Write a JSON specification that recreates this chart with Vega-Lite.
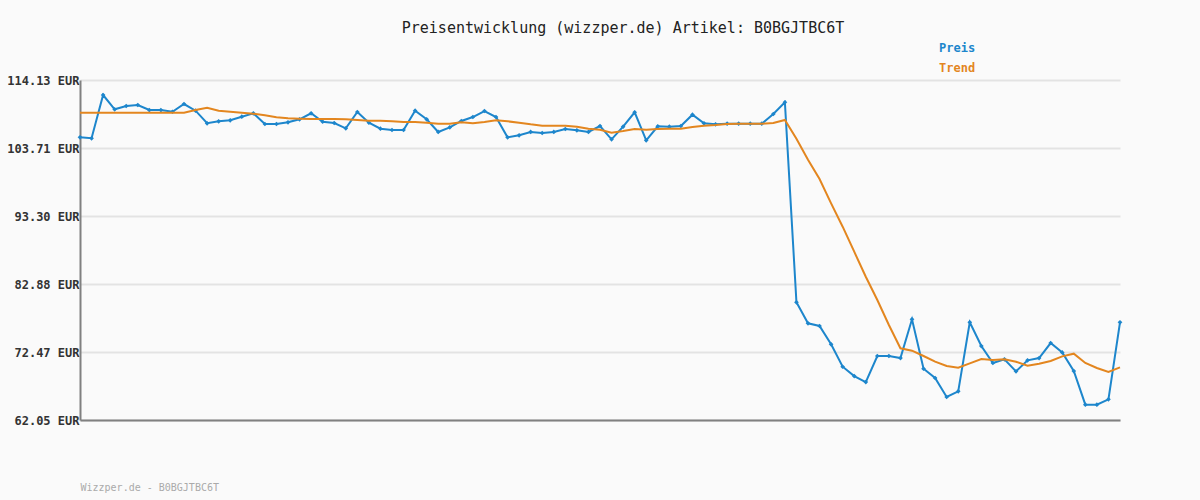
{
  "$schema": "https://vega.github.io/schema/vega-lite/v6.json",
  "width": 1040,
  "height": 340,
  "autosize": "none",
  "padding": {"left": 80, "top": 80, "right": 80, "bottom": 80},
  "background": "#fafafa",
  "title": {
    "text": "Preisentwicklung (wizzper.de) Artikel: B0BGJTBC6T",
    "font": "DejaVu Sans Mono",
    "fontSize": 15,
    "fontWeight": "normal",
    "color": "#222222",
    "anchor": "middle",
    "dx": 23,
    "offset": 6
  },
  "config": {
    "view": {"stroke": null},
    "legend": {"labelFont": "DejaVu Sans Mono"}
  },
  "data": {
    "values": [
      {"i":0,"s":"Preis","v":105.35},{"i":1,"s":"Preis","v":105.2},{"i":2,"s":"Preis","v":111.83},{"i":3,"s":"Preis","v":109.64},{"i":4,"s":"Preis","v":110.15},{"i":5,"s":"Preis","v":110.3},{"i":6,"s":"Preis","v":109.53},{"i":7,"s":"Preis","v":109.53},{"i":8,"s":"Preis","v":109.27},{"i":9,"s":"Preis","v":110.45},
      {"i":10,"s":"Preis","v":109.43},{"i":11,"s":"Preis","v":107.5},{"i":12,"s":"Preis","v":107.8},{"i":13,"s":"Preis","v":107.96},{"i":14,"s":"Preis","v":108.51},{"i":15,"s":"Preis","v":109.03},{"i":16,"s":"Preis","v":107.39},{"i":17,"s":"Preis","v":107.39},{"i":18,"s":"Preis","v":107.65},{"i":19,"s":"Preis","v":108.11},
      {"i":20,"s":"Preis","v":109.03},{"i":21,"s":"Preis","v":107.74},{"i":22,"s":"Preis","v":107.54},{"i":23,"s":"Preis","v":106.73},{"i":24,"s":"Preis","v":109.23},{"i":25,"s":"Preis","v":107.59},{"i":26,"s":"Preis","v":106.67},{"i":27,"s":"Preis","v":106.47},{"i":28,"s":"Preis","v":106.47},{"i":29,"s":"Preis","v":109.43},
      {"i":30,"s":"Preis","v":108.11},{"i":31,"s":"Preis","v":106.17},{"i":32,"s":"Preis","v":106.88},{"i":33,"s":"Preis","v":107.85},{"i":34,"s":"Preis","v":108.46},{"i":35,"s":"Preis","v":109.38},{"i":36,"s":"Preis","v":108.46},{"i":37,"s":"Preis","v":105.35},{"i":38,"s":"Preis","v":105.66},{"i":39,"s":"Preis","v":106.17},
      {"i":40,"s":"Preis","v":106.01},{"i":41,"s":"Preis","v":106.17},{"i":42,"s":"Preis","v":106.62},{"i":43,"s":"Preis","v":106.42},{"i":44,"s":"Preis","v":106.17},{"i":45,"s":"Preis","v":107.08},{"i":46,"s":"Preis","v":105.04},{"i":47,"s":"Preis","v":106.98},{"i":48,"s":"Preis","v":109.18},{"i":49,"s":"Preis","v":104.89},
      {"i":50,"s":"Preis","v":107.03},{"i":51,"s":"Preis","v":106.98},{"i":52,"s":"Preis","v":107.08},{"i":53,"s":"Preis","v":108.82},{"i":54,"s":"Preis","v":107.5},{"i":55,"s":"Preis","v":107.34},{"i":56,"s":"Preis","v":107.44},{"i":57,"s":"Preis","v":107.44},{"i":58,"s":"Preis","v":107.44},{"i":59,"s":"Preis","v":107.44},
      {"i":60,"s":"Preis","v":108.92},{"i":61,"s":"Preis","v":110.71},{"i":62,"s":"Preis","v":80.08},{"i":63,"s":"Preis","v":76.86},{"i":64,"s":"Preis","v":76.45},{"i":65,"s":"Preis","v":73.64},{"i":66,"s":"Preis","v":70.21},{"i":67,"s":"Preis","v":68.78},{"i":68,"s":"Preis","v":67.86},{"i":69,"s":"Preis","v":71.85},
      {"i":70,"s":"Preis","v":71.85},{"i":71,"s":"Preis","v":71.54},{"i":72,"s":"Preis","v":77.47},{"i":73,"s":"Preis","v":69.9},{"i":74,"s":"Preis","v":68.48},{"i":75,"s":"Preis","v":65.57},{"i":76,"s":"Preis","v":66.44},{"i":77,"s":"Preis","v":77.01},{"i":78,"s":"Preis","v":73.38},{"i":79,"s":"Preis","v":70.78},
      {"i":80,"s":"Preis","v":71.35},{"i":81,"s":"Preis","v":69.5},{"i":82,"s":"Preis","v":71.19},{"i":83,"s":"Preis","v":71.54},{"i":84,"s":"Preis","v":73.84},{"i":85,"s":"Preis","v":72.4},{"i":86,"s":"Preis","v":69.55},{"i":87,"s":"Preis","v":64.4},{"i":88,"s":"Preis","v":64.4},{"i":89,"s":"Preis","v":65.22},
      {"i":90,"s":"Preis","v":77.01},
      {"i":0,"s":"Trend","v":109.13},{"i":1,"s":"Trend","v":109.13},{"i":2,"s":"Trend","v":109.13},{"i":3,"s":"Trend","v":109.13},{"i":4,"s":"Trend","v":109.13},{"i":5,"s":"Trend","v":109.13},{"i":6,"s":"Trend","v":109.13},{"i":7,"s":"Trend","v":109.13},{"i":8,"s":"Trend","v":109.13},{"i":9,"s":"Trend","v":109.13},
      {"i":10,"s":"Trend","v":109.53},{"i":11,"s":"Trend","v":109.89},{"i":12,"s":"Trend","v":109.43},{"i":13,"s":"Trend","v":109.28},{"i":14,"s":"Trend","v":109.13},{"i":15,"s":"Trend","v":108.97},{"i":16,"s":"Trend","v":108.72},{"i":17,"s":"Trend","v":108.41},{"i":18,"s":"Trend","v":108.26},{"i":19,"s":"Trend","v":108.21},
      {"i":20,"s":"Trend","v":108.16},{"i":21,"s":"Trend","v":108.16},{"i":22,"s":"Trend","v":108.16},{"i":23,"s":"Trend","v":108.1},{"i":24,"s":"Trend","v":108.0},{"i":25,"s":"Trend","v":107.9},{"i":26,"s":"Trend","v":107.9},{"i":27,"s":"Trend","v":107.8},{"i":28,"s":"Trend","v":107.7},{"i":29,"s":"Trend","v":107.7},
      {"i":30,"s":"Trend","v":107.59},{"i":31,"s":"Trend","v":107.44},{"i":32,"s":"Trend","v":107.44},{"i":33,"s":"Trend","v":107.65},{"i":34,"s":"Trend","v":107.49},{"i":35,"s":"Trend","v":107.7},{"i":36,"s":"Trend","v":107.95},{"i":37,"s":"Trend","v":107.8},{"i":38,"s":"Trend","v":107.59},{"i":39,"s":"Trend","v":107.34},
      {"i":40,"s":"Trend","v":107.13},{"i":41,"s":"Trend","v":107.13},{"i":42,"s":"Trend","v":107.13},{"i":43,"s":"Trend","v":106.98},{"i":44,"s":"Trend","v":106.67},{"i":45,"s":"Trend","v":106.52},{"i":46,"s":"Trend","v":106.06},{"i":47,"s":"Trend","v":106.32},{"i":48,"s":"Trend","v":106.62},{"i":49,"s":"Trend","v":106.52},
      {"i":50,"s":"Trend","v":106.62},{"i":51,"s":"Trend","v":106.67},{"i":52,"s":"Trend","v":106.67},{"i":53,"s":"Trend","v":106.93},{"i":54,"s":"Trend","v":107.13},{"i":55,"s":"Trend","v":107.24},{"i":56,"s":"Trend","v":107.39},{"i":57,"s":"Trend","v":107.44},{"i":58,"s":"Trend","v":107.44},{"i":59,"s":"Trend","v":107.44},
      {"i":60,"s":"Trend","v":107.54},{"i":61,"s":"Trend","v":108.0},{"i":62,"s":"Trend","v":105.14},{"i":63,"s":"Trend","v":101.93},{"i":64,"s":"Trend","v":98.97},{"i":65,"s":"Trend","v":95.24},{"i":66,"s":"Trend","v":91.66},{"i":67,"s":"Trend","v":87.83},{"i":68,"s":"Trend","v":84.0},{"i":69,"s":"Trend","v":80.43},
      {"i":70,"s":"Trend","v":76.6},{"i":71,"s":"Trend","v":73.03},{"i":72,"s":"Trend","v":72.67},{"i":73,"s":"Trend","v":71.85},{"i":74,"s":"Trend","v":70.98},{"i":75,"s":"Trend","v":70.32},{"i":76,"s":"Trend","v":70.07},{"i":77,"s":"Trend","v":70.73},{"i":78,"s":"Trend","v":71.39},{"i":79,"s":"Trend","v":71.24},
      {"i":80,"s":"Trend","v":71.34},{"i":81,"s":"Trend","v":70.98},{"i":82,"s":"Trend","v":70.37},{"i":83,"s":"Trend","v":70.68},{"i":84,"s":"Trend","v":71.09},{"i":85,"s":"Trend","v":71.8},{"i":86,"s":"Trend","v":72.21},{"i":87,"s":"Trend","v":70.78},{"i":88,"s":"Trend","v":70.01},{"i":89,"s":"Trend","v":69.4},
      {"i":90,"s":"Trend","v":70.12}
    ]
  },
  "encoding": {
    "x": {
      "field": "i",
      "type": "quantitative",
      "scale": {"domain": [0, 90], "nice": false, "zero": false},
      "axis": {
        "title": "Wizzper.de - B0BGJTBC6T",
        "titleFont": "DejaVu Sans Mono",
        "titleFontSize": 10,
        "titleFontWeight": "normal",
        "titleColor": "#aaaaaa",
        "titleAnchor": "start",
        "titlePadding": 62,
        "labels": false,
        "ticks": false,
        "grid": false,
        "domainColor": "#808080",
        "domainWidth": 2
      }
    },
    "y": {
      "field": "v",
      "type": "quantitative",
      "scale": {"domain": [62.05, 114.13], "nice": false, "zero": false},
      "axis": {
        "title": null,
        "values": [62.05, 72.466, 82.882, 93.298, 103.714, 114.13],
        "labelExpr": "format(datum.value, '.2f') + ' EUR'",
        "labelFont": "DejaVu Sans Mono",
        "labelFontSize": 12,
        "labelFontWeight": "bold",
        "labelColor": "#333333",
        "labelPadding": 1,
        "ticks": false,
        "grid": true,
        "gridColor": "#e3e3e3",
        "gridWidth": 2,
        "domainColor": "#808080",
        "domainWidth": 2
      }
    },
    "color": {
      "field": "s",
      "type": "nominal",
      "scale": {"domain": ["Preis", "Trend"], "range": ["#1d86cc", "#e3861f"]},
      "legend": {
        "title": null,
        "orient": "none",
        "legendX": 843,
        "legendY": -38,
        "direction": "vertical",
        "symbolSize": 0,
        "symbolStrokeWidth": 0,
        "symbolOpacity": 0,
        "labelFont": "DejaVu Sans Mono",
        "labelFontSize": 12,
        "labelFontWeight": "bold",
        "rowPadding": 8,
        "encode": {
          "labels": {"update": {"fill": {"scale": "color", "field": "value"}}}
        }
      }
    }
  },
  "layer": [
    {
      "transform": [{"filter": "datum.s == 'Preis'"}],
      "mark": {"type": "line", "strokeWidth": 2}
    },
    {
      "transform": [{"filter": "datum.s == 'Preis'"}],
      "mark": {"type": "point", "shape": "diamond", "size": 22, "filled": true, "opacity": 1}
    },
    {
      "transform": [{"filter": "datum.s == 'Trend'"}],
      "mark": {"type": "line", "strokeWidth": 2}
    }
  ]
}
